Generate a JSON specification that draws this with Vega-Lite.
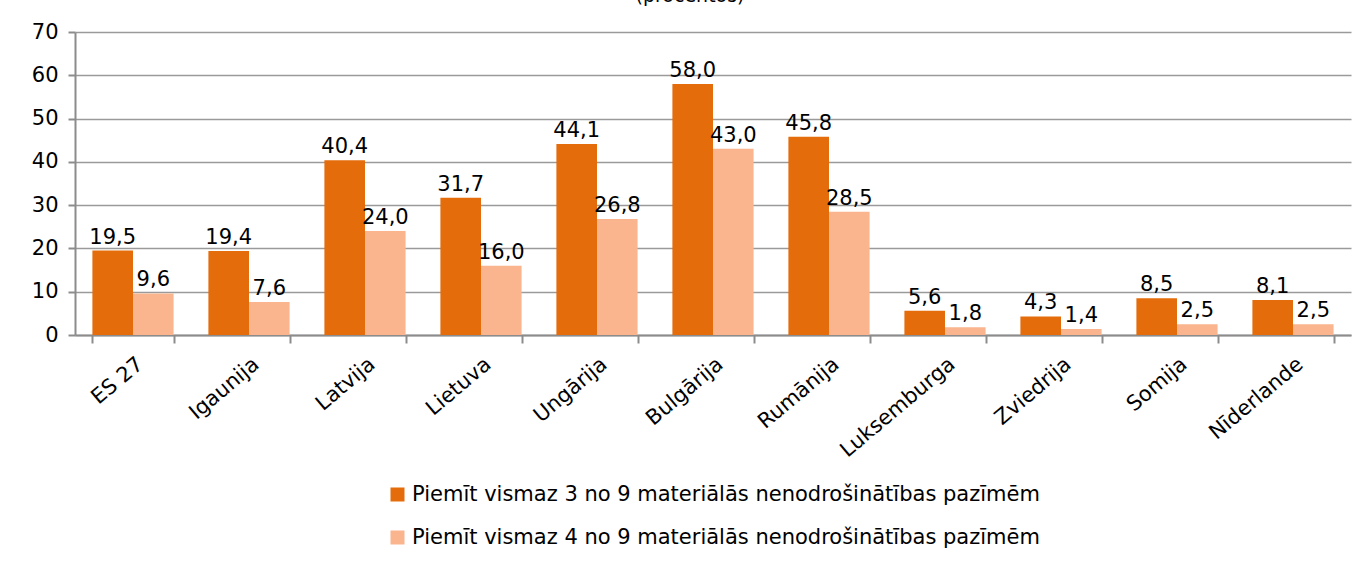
{
  "$schema": "https://vega.github.io/schema/vega-lite/v6.json",
  "width": 1276,
  "height": 303,
  "autosize": {"type": "none"},
  "padding": {"left": 75, "top": 32, "right": 6, "bottom": 228},
  "background": "white",
  "title": {"text": "(procentos)", "fontSize": 19, "font": "DejaVu Sans", "fontWeight": "normal", "color": "#000", "offset": -4, "baseline": "bottom", "anchor": "middle", "dx": -23},
  "config": {
    "locale": {"number": {"decimal": ",", "thousands": " ", "grouping": [3], "currency": ["", " €"]}},
    "font": "DejaVu Sans",
    "view": {"stroke": null},
    "legend": {"layout": {"bottom": {"anchor": "middle"}}}
  },
  "data": {
    "values": [
      {"valsts": "ES 27", "rādītājs": "Piemīt vismaz 3 no 9 materiālās nenodrošinātības pazīmēm", "vērtība": 19.5},
      {"valsts": "ES 27", "rādītājs": "Piemīt vismaz 4 no 9 materiālās nenodrošinātības pazīmēm", "vērtība": 9.6},
      {"valsts": "Igaunija", "rādītājs": "Piemīt vismaz 3 no 9 materiālās nenodrošinātības pazīmēm", "vērtība": 19.4},
      {"valsts": "Igaunija", "rādītājs": "Piemīt vismaz 4 no 9 materiālās nenodrošinātības pazīmēm", "vērtība": 7.6},
      {"valsts": "Latvija", "rādītājs": "Piemīt vismaz 3 no 9 materiālās nenodrošinātības pazīmēm", "vērtība": 40.4},
      {"valsts": "Latvija", "rādītājs": "Piemīt vismaz 4 no 9 materiālās nenodrošinātības pazīmēm", "vērtība": 24.0},
      {"valsts": "Lietuva", "rādītājs": "Piemīt vismaz 3 no 9 materiālās nenodrošinātības pazīmēm", "vērtība": 31.7},
      {"valsts": "Lietuva", "rādītājs": "Piemīt vismaz 4 no 9 materiālās nenodrošinātības pazīmēm", "vērtība": 16.0},
      {"valsts": "Ungārija", "rādītājs": "Piemīt vismaz 3 no 9 materiālās nenodrošinātības pazīmēm", "vērtība": 44.1},
      {"valsts": "Ungārija", "rādītājs": "Piemīt vismaz 4 no 9 materiālās nenodrošinātības pazīmēm", "vērtība": 26.8},
      {"valsts": "Bulgārija", "rādītājs": "Piemīt vismaz 3 no 9 materiālās nenodrošinātības pazīmēm", "vērtība": 58.0},
      {"valsts": "Bulgārija", "rādītājs": "Piemīt vismaz 4 no 9 materiālās nenodrošinātības pazīmēm", "vērtība": 43.0},
      {"valsts": "Rumānija", "rādītājs": "Piemīt vismaz 3 no 9 materiālās nenodrošinātības pazīmēm", "vērtība": 45.8},
      {"valsts": "Rumānija", "rādītājs": "Piemīt vismaz 4 no 9 materiālās nenodrošinātības pazīmēm", "vērtība": 28.5},
      {"valsts": "Luksemburga", "rādītājs": "Piemīt vismaz 3 no 9 materiālās nenodrošinātības pazīmēm", "vērtība": 5.6},
      {"valsts": "Luksemburga", "rādītājs": "Piemīt vismaz 4 no 9 materiālās nenodrošinātības pazīmēm", "vērtība": 1.8},
      {"valsts": "Zviedrija", "rādītājs": "Piemīt vismaz 3 no 9 materiālās nenodrošinātības pazīmēm", "vērtība": 4.3},
      {"valsts": "Zviedrija", "rādītājs": "Piemīt vismaz 4 no 9 materiālās nenodrošinātības pazīmēm", "vērtība": 1.4},
      {"valsts": "Somija", "rādītājs": "Piemīt vismaz 3 no 9 materiālās nenodrošinātības pazīmēm", "vērtība": 8.5},
      {"valsts": "Somija", "rādītājs": "Piemīt vismaz 4 no 9 materiālās nenodrošinātības pazīmēm", "vērtība": 2.5},
      {"valsts": "Nīderlande", "rādītājs": "Piemīt vismaz 3 no 9 materiālās nenodrošinātības pazīmēm", "vērtība": 8.1},
      {"valsts": "Nīderlande", "rādītājs": "Piemīt vismaz 4 no 9 materiālās nenodrošinātības pazīmēm", "vērtība": 2.5}
    ]
  },
  "encoding": {
    "x": {
      "field": "valsts", "type": "nominal", "sort": null, "title": null,
      "scale": {"paddingInner": 0.3, "paddingOuter": 0.15},
      "axis": {"labelAngle": -40, "labelFontSize": 21, "labelColor": "#000", "labelFont": "DejaVu Sans",
               "domainColor": "#8c8c8c", "domainWidth": 2, "tickColor": "#8c8c8c", "tickWidth": 2, "tickSize": 8,
               "tickBand": "extent", "labelPadding": 10, "grid": false}
    },
    "xOffset": {"field": "rādītājs", "type": "nominal"},
    "y": {
      "field": "vērtība", "type": "quantitative", "title": null,
      "scale": {"domain": [0, 70], "nice": false},
      "axis": {"values": [0, 10, 20, 30, 40, 50, 60, 70], "labelFontSize": 21, "labelColor": "#000", "labelFont": "DejaVu Sans",
               "domainColor": "#8c8c8c", "domainWidth": 2, "tickColor": "#8c8c8c", "tickWidth": 2, "tickSize": 7,
               "gridColor": "#9a9a9a", "gridWidth": 1.5, "labelPadding": 10}
    }
  },
  "layer": [
    {
      "mark": {"type": "bar"},
      "encoding": {
        "color": {
          "field": "rādītājs", "type": "nominal", "title": null,
          "scale": {"range": ["#E46C0A", "#FAB58E"]},
          "legend": {"orient": "bottom", "direction": "vertical", "symbolType": "square", "symbolSize": 196,
                     "symbolStrokeWidth": 0, "labelFontSize": 21, "labelColor": "#000", "labelFont": "DejaVu Sans",
                     "rowPadding": 21, "labelLimit": 900, "labelOffset": 4, "offset": 23}
        }
      }
    },
    {
      "mark": {"type": "text", "baseline": "bottom", "dy": -3, "fontSize": 21, "color": "#000", "font": "DejaVu Sans"},
      "encoding": {
        "text": {"field": "vērtība", "type": "quantitative", "format": ".1f"}
      }
    }
  ]
}
